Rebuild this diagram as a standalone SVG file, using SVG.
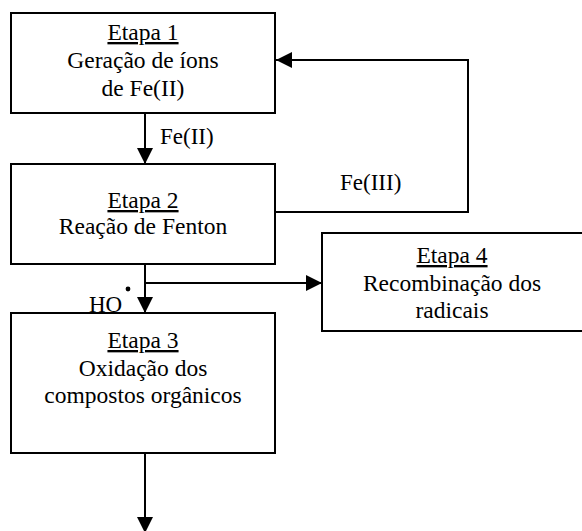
<svg xmlns="http://www.w3.org/2000/svg" width="582" height="531" viewBox="0 0 582 531">
<style>
.box{fill:#fff;stroke:#000;stroke-width:2}
.t{font-family:"Liberation Serif","Times New Roman",serif;font-size:23.5px;fill:#000;text-anchor:middle}
.l{font-family:"Liberation Serif","Times New Roman",serif;font-size:23px;fill:#000}
.u{text-decoration:underline}
.c{fill:none;stroke:#000;stroke-width:2}
</style>
<defs>
<marker id="ah" viewBox="0 0 16 16" refX="16" refY="8" markerWidth="16" markerHeight="16" markerUnits="userSpaceOnUse" orient="auto">
<path d="M0,0 L16,8 L0,16 Z" fill="#000"/>
</marker>
</defs>
<rect width="582" height="531" fill="#fff"/>
<g id="connectors">
<line class="c" x1="145" y1="113" x2="145" y2="164" marker-end="url(#ah)"/>
<polyline class="c" points="275,212 468,212 468,60 276,60" marker-end="url(#ah)"/>
<line class="c" x1="145" y1="264" x2="145" y2="313" marker-end="url(#ah)"/>
<line class="c" x1="145" y1="283" x2="322" y2="283" marker-end="url(#ah)"/>
<line class="c" x1="145" y1="453" x2="145" y2="533" marker-end="url(#ah)"/>
<text class="l" x="160" y="144">Fe(II)</text>
<text class="l" x="340" y="190">Fe(III)</text>
<text class="l" x="89" y="312">HO</text>
<circle cx="128" cy="289" r="2.4" fill="#000"/>
</g>
<g id="etapa1">
<rect class="box" x="11" y="13" width="264" height="100"/>
<text class="t u" x="143" y="40">Etapa 1</text>
<text class="t" x="143" y="68">Geração de íons</text>
<text class="t" x="143" y="96">de Fe(II)</text>
</g>
<g id="etapa2">
<rect class="box" x="11" y="164" width="264" height="100"/>
<text class="t u" x="143" y="208">Etapa 2</text>
<text class="t" x="143" y="234">Reação de Fenton</text>
</g>
<g id="etapa3">
<rect class="box" x="11" y="313" width="264" height="140"/>
<text class="t u" x="143" y="348">Etapa 3</text>
<text class="t" x="143" y="376">Oxidação dos</text>
<text class="t" x="143" y="403">compostos orgânicos</text>
</g>
<g id="etapa4">
<rect class="box" x="322" y="233" width="264" height="98"/>
<text class="t u" x="452" y="263">Etapa 4</text>
<text class="t" x="452" y="291">Recombinação dos</text>
<text class="t" x="452" y="318">radicais</text>
</g>
</svg>
